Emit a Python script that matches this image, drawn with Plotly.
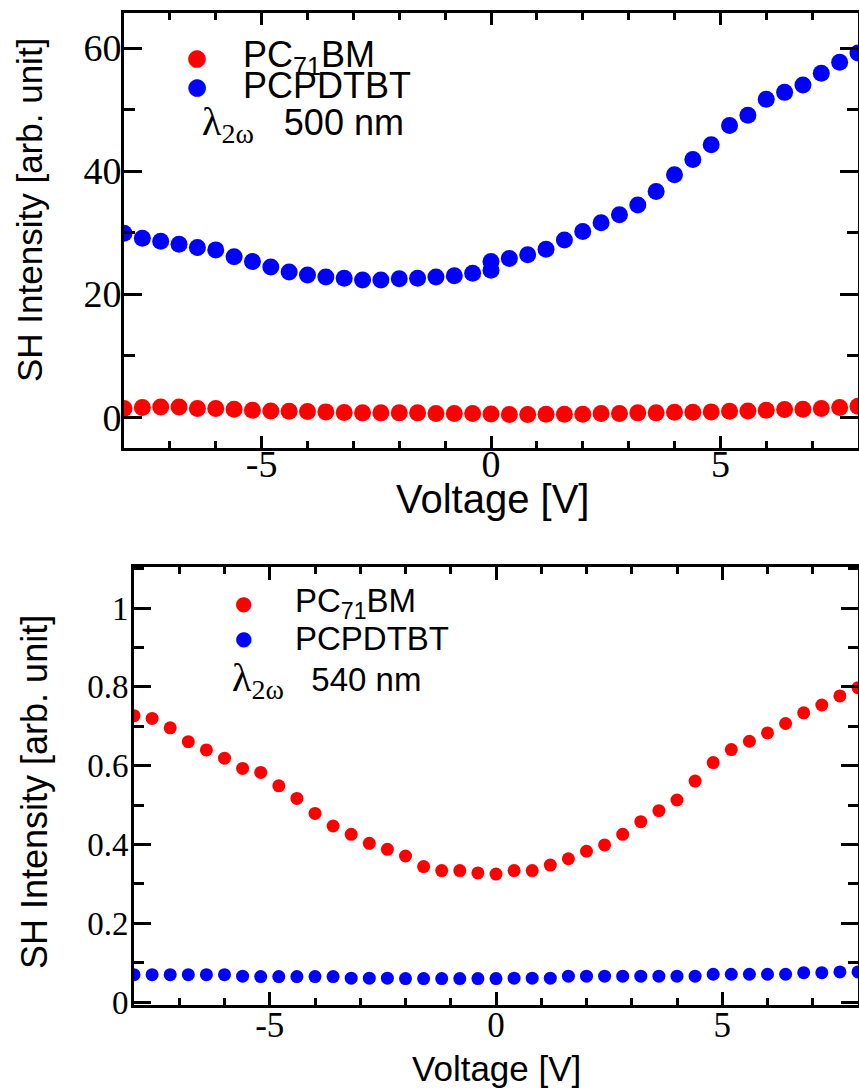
import plotly.graph_objects as go

# ---------------- data ----------------
# top panel (lambda_2w = 500 nm)
top_voltage = [-8.0, -7.6, -7.2, -6.8, -6.4, -6.0, -5.6, -5.2, -4.8, -4.4, -4.0, -3.6, -3.2, -2.8, -2.4,
               -2.0, -1.6, -1.2, -0.8, -0.4, 0.0, 0.0, 0.4, 0.8, 1.2, 1.6, 2.0, 2.4, 2.8, 3.2, 3.6,
               4.0, 4.4, 4.8, 5.2, 5.6, 6.0, 6.4, 6.8, 7.2, 7.6, 8.0]
top_pcpdtbt = [29.9, 29.1, 28.6, 28.1, 27.6, 27.2, 26.1, 25.3, 24.4, 23.6, 23.1, 22.8, 22.6, 22.3, 22.3,
               22.5, 22.6, 22.8, 23.0, 23.4, 23.9, 25.3, 25.8, 26.4, 27.3, 28.8, 30.2, 31.6, 32.9, 34.5, 36.7,
               39.4, 41.9, 44.3, 47.4, 49.1, 51.7, 52.8, 54.0, 55.9, 57.7, 59.2]
top_voltage_pcbm = [-8.0, -7.6, -7.2, -6.8, -6.4, -6.0, -5.6, -5.2, -4.8, -4.4, -4.0, -3.6, -3.2, -2.8,
                    -2.4, -2.0, -1.6, -1.2, -0.8, -0.4, 0.0, 0.4, 0.8, 1.2, 1.6, 2.0, 2.4, 2.8, 3.2,
                    3.6, 4.0, 4.4, 4.8, 5.2, 5.6, 6.0, 6.4, 6.8, 7.2, 7.6, 8.0]
top_pcbm = [1.41, 1.57, 1.68, 1.68, 1.41, 1.41, 1.30, 1.14, 1.03, 0.98, 0.92, 0.87, 0.76, 0.71,
            0.71, 0.71, 0.71, 0.60, 0.60, 0.60, 0.52, 0.43, 0.43, 0.49, 0.49, 0.49, 0.60, 0.60, 0.71,
            0.71, 0.81, 0.81, 0.87, 0.98, 1.03, 1.14, 1.25, 1.30, 1.41, 1.57, 1.79]

# bottom panel (lambda_2w = 540 nm)
bot_voltage = [-8.0, -7.6, -7.2, -6.8, -6.4, -6.0, -5.6, -5.2, -4.8, -4.4, -4.0, -3.6, -3.2, -2.8,
               -2.4, -2.0, -1.6, -1.2, -0.8, -0.4, 0.0, 0.4, 0.8, 1.2, 1.6, 2.0, 2.4, 2.8, 3.2,
               3.6, 4.0, 4.4, 4.8, 5.2, 5.6, 6.0, 6.4, 6.8, 7.2, 7.6, 8.0]
bot_pcbm = [0.727, 0.720, 0.696, 0.661, 0.640, 0.619, 0.593, 0.583, 0.549, 0.517, 0.479, 0.447, 0.426,
            0.403, 0.388, 0.371, 0.344, 0.334, 0.334, 0.328, 0.325, 0.334, 0.334, 0.348, 0.364, 0.383,
            0.399, 0.426, 0.458, 0.486, 0.513, 0.561, 0.608, 0.641, 0.662, 0.683, 0.707, 0.734,
            0.754, 0.777, 0.798]
bot_pcpdtbt = [0.070, 0.070, 0.070, 0.070, 0.070, 0.070, 0.066, 0.065, 0.065, 0.065, 0.065, 0.065,
               0.061, 0.061, 0.061, 0.060, 0.060, 0.060, 0.060, 0.060, 0.060, 0.061, 0.061, 0.061,
               0.066, 0.066, 0.066, 0.066, 0.066, 0.066, 0.066, 0.066, 0.071, 0.071, 0.071, 0.071,
               0.071, 0.075, 0.075, 0.077, 0.077]

series_names = ["PC<sub>71</sub>BM", "PCPDTBT"]
series_colors = ["#ff0000", "#0000ff"]
wavelength_labels = ["500 nm", "540 nm"]

x_tickvals = [-5, 0, 5]
x_ticktext = ["-5", "0", "5"]
top_y_tickvals = [0, 20, 40, 60]
top_y_ticktext = ["0", "20", "40", "60"]
bot_y_tickvals = [0, 0.2, 0.4, 0.6, 0.8, 1.0]
bot_y_ticktext = ["0", "0.2", "0.4", "0.6", "0.8", "1"]

x_title = "Voltage [V]"
y_title = "SH Intensity [arb. unit]"

# ---------------- figure ----------------
W, H = 859, 1089
def px(x):
    return x / W
def py(y):
    return 1 - y / H

fig = go.Figure()

fig.add_trace(go.Scatter(x=top_voltage_pcbm, y=top_pcbm, mode="markers", xaxis="x", yaxis="y",
                         marker=dict(color=series_colors[0], size=17), showlegend=False))
fig.add_trace(go.Scatter(x=top_voltage, y=top_pcpdtbt, mode="markers", xaxis="x", yaxis="y",
                         marker=dict(color=series_colors[1], size=17), showlegend=False))
fig.add_trace(go.Scatter(x=bot_voltage, y=bot_pcbm, mode="markers", xaxis="x2", yaxis="y2",
                         marker=dict(color=series_colors[0], size=13), showlegend=False))
fig.add_trace(go.Scatter(x=bot_voltage, y=bot_pcpdtbt, mode="markers", xaxis="x2", yaxis="y2",
                         marker=dict(color=series_colors[1], size=13), showlegend=False))

serif = "Times New Roman"
sans = "Arial"

def xaxis_style(domain, anchor, tickfont_size, major_len, minor_len, standoff):
    return dict(domain=domain, anchor=anchor, range=[-8, 8], tickvals=x_tickvals, ticktext=x_ticktext,
                ticks="inside", ticklen=major_len, tickwidth=3, tickcolor="black",
                minor=dict(ticks="inside", ticklen=minor_len, tickwidth=3, dtick=1, tickcolor="black",
                           showgrid=False),
                showline=True, linewidth=3, linecolor="black", mirror="ticks",
                showgrid=False, zeroline=False, automargin=False, ticklabelstandoff=standoff,
                tickfont=dict(family=serif, size=tickfont_size, color="black"))

def yaxis_style(domain, anchor, rng, tv, tt, minor_dtick, tickfont_size, major_len, minor_len, standoff):
    return dict(domain=domain, anchor=anchor, range=rng, tickvals=tv, ticktext=tt,
                ticks="inside", ticklen=major_len, tickwidth=3, tickcolor="black",
                minor=dict(ticks="inside", ticklen=minor_len, tickwidth=3, dtick=minor_dtick,
                           tickcolor="black", showgrid=False),
                showline=True, linewidth=3, linecolor="black", mirror="ticks",
                showgrid=False, zeroline=False, automargin=False, ticklabelstandoff=standoff,
                tickfont=dict(family=serif, size=tickfont_size, color="black"))

fig.update_layout(
    width=W, height=H,
    margin=dict(l=0, r=0, t=0, b=0, autoexpand=False),
    paper_bgcolor="white", plot_bgcolor="white",
    showlegend=False,
    xaxis=xaxis_style([px(124), px(858)], "y", 38, 12, 7, -20),
    yaxis=yaxis_style([py(448), py(13)], "x", [-5.0, 65.7], top_y_tickvals, top_y_ticktext, 10, 38, 18, 11, -8),
    xaxis2=xaxis_style([px(134), px(858)], "y2", 35, 13, 7, -13),
    yaxis2=yaxis_style([py(1005), py(567)], "x2", [-0.007, 1.104], bot_y_tickvals, bot_y_ticktext, 0.1, 33, 17, 10, -4),
)

ann = []
# axis titles
ann.append(dict(text=y_title, x=px(30), y=py(210), xref="paper", yref="paper", textangle=-90,
                showarrow=False, font=dict(family=sans, size=35, color="black"),
                xanchor="center", yanchor="middle"))
ann.append(dict(text=x_title, x=px(492), y=py(499), xref="paper", yref="paper",
                showarrow=False, font=dict(family=sans, size=40, color="black"),
                xanchor="center", yanchor="middle"))
ann.append(dict(text=y_title, x=px(34), y=py(792), xref="paper", yref="paper", textangle=-90,
                showarrow=False, font=dict(family=sans, size=36, color="black"),
                xanchor="center", yanchor="middle"))
ann.append(dict(text=x_title, x=px(496), y=py(1068), xref="paper", yref="paper",
                showarrow=False, font=dict(family=sans, size=35, color="black"),
                xanchor="center", yanchor="middle"))

# legends (key dots + labels)
def legend(dot_x, dot_ys, text_x, lam_x, lam_y, dot_size, fsize, lam_size, gap, wl):
    out = []
    for i in range(2):
        out.append(dict(text="●", x=px(dot_x), y=py(dot_ys[i]), xref="paper", yref="paper",
                        showarrow=False, font=dict(family="DejaVu Sans", size=dot_size, color=series_colors[i]),
                        xanchor="center", yanchor="middle"))
        out.append(dict(text=series_names[i], x=px(text_x), y=py(dot_ys[i]), xref="paper", yref="paper",
                        showarrow=False, font=dict(family=sans, size=fsize, color="black"),
                        xanchor="left", yanchor="middle"))
    out.append(dict(text="<span style='font-family:Times New Roman;font-size:%dpx'>λ<sub>2ω</sub></span>%s%s"
                    % (lam_size, "&nbsp;" * gap, wl),
                    x=px(lam_x), y=py(lam_y), xref="paper", yref="paper",
                    showarrow=False, font=dict(family=sans, size=fsize, color="black"),
                    xanchor="left", yanchor="middle"))
    return out

ann += legend(197, [57, 86], 241, 200, 124, 23, 36, 40, 3, wavelength_labels[0])
ann += legend(243, [603, 638], 293, 230, 680, 20, 33, 40, 3, wavelength_labels[1])

fig.update_layout(annotations=ann)

fig.write_html("out.html", config={"displayModeBar": False},
               post_script="document.body.style.margin='0';document.body.style.overflow='hidden';")
